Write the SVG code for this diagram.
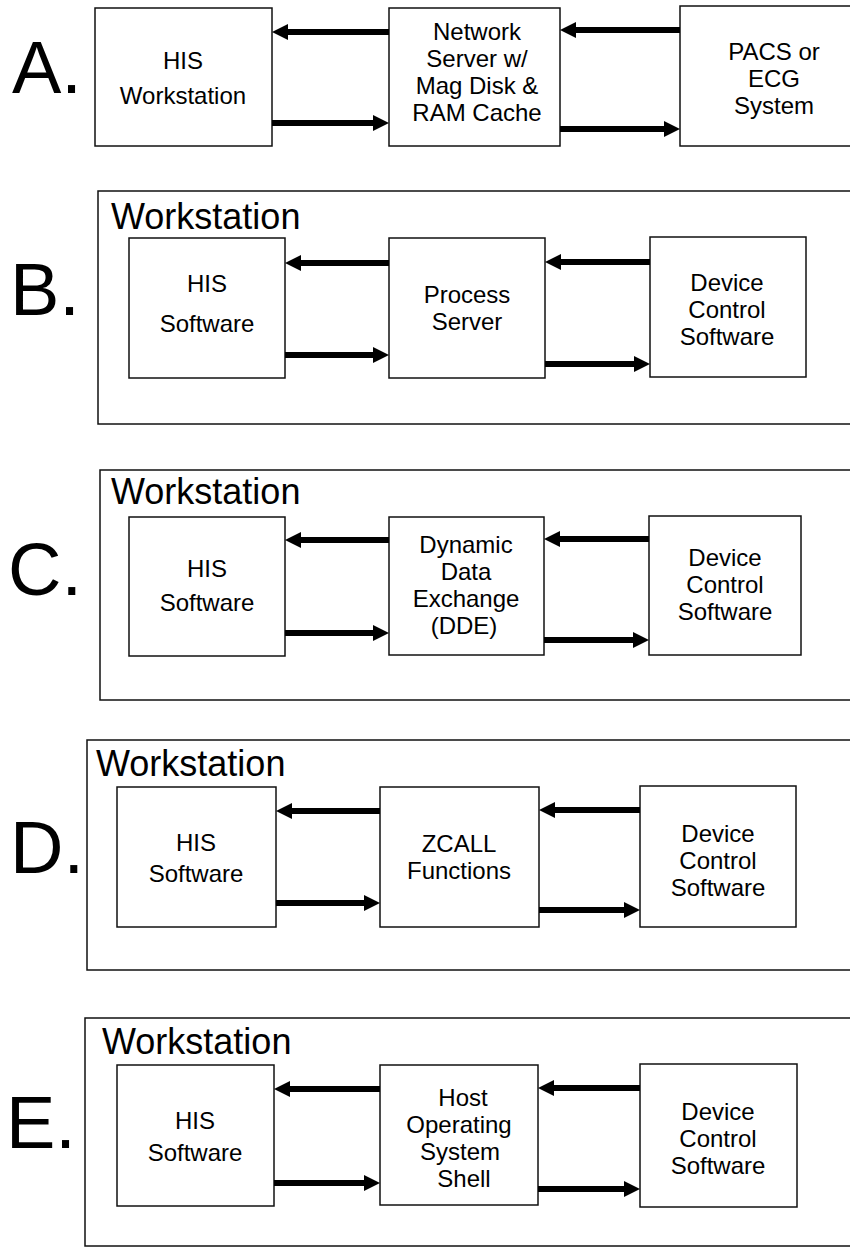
<svg xmlns="http://www.w3.org/2000/svg" width="850" height="1251" viewBox="0 0 850 1251">
<defs>
<style>
.bg{fill:#fff}
.box{fill:#fff;stroke:#111;stroke-width:1.5}
.frame{fill:none;stroke:#111;stroke-width:1.5}
.t{font-family:"Liberation Sans",Arial,sans-serif;font-size:24px;fill:#000;text-anchor:middle}
.ws{font-family:"Liberation Sans",Arial,sans-serif;font-size:36px;fill:#000}
.big{font-family:"Liberation Sans",Arial,sans-serif;font-size:74px;fill:#000}
.ar{stroke:#000;stroke-width:6;fill:none;marker-end:url(#ah)}
</style>
<marker id="ah" markerUnits="userSpaceOnUse" markerWidth="16" markerHeight="16" viewBox="0 0 16 16" refX="6" refY="8" orient="auto">
<path d="M0,0 L16,8 L0,16 z" fill="#000"/>
</marker>
</defs>
<rect class="bg" x="0" y="0" width="850" height="1251"/>

<!-- Section A -->
<g id="label-A"><text class="big" x="12" y="93">A.</text></g>
<g id="A-his"><rect class="box" x="95" y="8" width="177" height="138"/>
<text class="t" x="183" y="69">HIS</text><text class="t" x="183" y="104">Workstation</text></g>
<g id="A-server"><rect class="box" x="389" y="8" width="171" height="138"/>
<text class="t" x="477" y="40">Network</text><text class="t" x="477" y="67">Server w/</text><text class="t" x="477" y="94">Mag Disk &amp;</text><text class="t" x="477" y="121">RAM Cache</text></g>
<g id="A-pacs"><rect class="box" x="680" y="6" width="175" height="140"/>
<text class="t" x="774" y="60">PACS or</text><text class="t" x="774" y="87">ECG</text><text class="t" x="774" y="114">System</text></g>

<!-- Section B -->
<g id="label-B"><text class="big" x="10" y="315">B.</text></g>
<g id="B-frame"><rect class="frame" x="98" y="191" width="760" height="233"/><text class="ws" x="111" y="229">Workstation</text></g>
<g id="B-his"><rect class="box" x="129" y="238" width="156" height="140"/>
<text class="t" x="207" y="292">HIS</text><text class="t" x="207" y="332">Software</text></g>
<g id="B-process"><rect class="box" x="389" y="238" width="156" height="140"/>
<text class="t" x="467" y="303">Process</text><text class="t" x="467" y="330">Server</text></g>
<g id="B-device"><rect class="box" x="650" y="237" width="156" height="140"/>
<text class="t" x="727" y="291">Device</text><text class="t" x="727" y="318">Control</text><text class="t" x="727" y="345">Software</text></g>

<!-- Section C -->
<g id="label-C"><text class="big" x="8" y="595">C.</text></g>
<g id="C-frame"><rect class="frame" x="100" y="470" width="760" height="230"/><text class="ws" x="111" y="504">Workstation</text></g>
<g id="C-his"><rect class="box" x="129" y="517" width="156" height="139"/>
<text class="t" x="207" y="577">HIS</text><text class="t" x="207" y="611">Software</text></g>
<g id="C-dde"><rect class="box" x="389" y="517" width="155" height="138"/>
<text class="t" x="466" y="553">Dynamic</text><text class="t" x="466" y="580">Data</text><text class="t" x="466" y="607">Exchange</text><text class="t" x="464" y="634">(DDE)</text></g>
<g id="C-device"><rect class="box" x="649" y="516" width="152" height="139"/>
<text class="t" x="725" y="566">Device</text><text class="t" x="725" y="593">Control</text><text class="t" x="725" y="620">Software</text></g>

<!-- Section D -->
<g id="label-D"><text class="big" x="10" y="873">D.</text></g>
<g id="D-frame"><rect class="frame" x="87" y="740" width="770" height="230"/><text class="ws" x="96" y="776">Workstation</text></g>
<g id="D-his"><rect class="box" x="117" y="787" width="159" height="140"/>
<text class="t" x="196" y="851">HIS</text><text class="t" x="196" y="882">Software</text></g>
<g id="D-zcall"><rect class="box" x="380" y="787" width="159" height="140"/>
<text class="t" x="459" y="852">ZCALL</text><text class="t" x="459" y="879">Functions</text></g>
<g id="D-device"><rect class="box" x="640" y="786" width="156" height="141"/>
<text class="t" x="718" y="842">Device</text><text class="t" x="718" y="869">Control</text><text class="t" x="718" y="896">Software</text></g>

<!-- Section E -->
<g id="label-E"><text class="big" x="6" y="1148">E.</text></g>
<g id="E-frame"><rect class="frame" x="85" y="1018" width="772" height="228"/><text class="ws" x="102" y="1054">Workstation</text></g>
<g id="E-his"><rect class="box" x="117" y="1065" width="157" height="141"/>
<text class="t" x="195" y="1129">HIS</text><text class="t" x="195" y="1161">Software</text></g>
<g id="E-shell"><rect class="box" x="380" y="1065" width="158" height="140"/>
<text class="t" x="463" y="1106">Host</text><text class="t" x="459" y="1133">Operating</text><text class="t" x="460" y="1160">System</text><text class="t" x="464" y="1187">Shell</text></g>
<g id="E-device"><rect class="box" x="640" y="1064" width="157" height="143"/>
<text class="t" x="718" y="1120">Device</text><text class="t" x="718" y="1147">Control</text><text class="t" x="718" y="1174">Software</text></g>

<g id="connectors">
<line class="ar" x1="389" y1="32" x2="282" y2="32"/>
<line class="ar" x1="680" y1="30" x2="570" y2="30"/>
<line class="ar" x1="272" y1="123" x2="379" y2="123"/>
<line class="ar" x1="560" y1="129" x2="670" y2="129"/>

<line class="ar" x1="389" y1="263" x2="295" y2="263"/>
<line class="ar" x1="650" y1="262" x2="555" y2="262"/>
<line class="ar" x1="285" y1="355" x2="379" y2="355"/>
<line class="ar" x1="545" y1="364" x2="640" y2="364"/>

<line class="ar" x1="389" y1="540" x2="295" y2="540"/>
<line class="ar" x1="649" y1="539" x2="554" y2="539"/>
<line class="ar" x1="285" y1="633" x2="379" y2="633"/>
<line class="ar" x1="544" y1="640" x2="639" y2="640"/>

<line class="ar" x1="380" y1="811" x2="286" y2="811"/>
<line class="ar" x1="640" y1="810" x2="549" y2="810"/>
<line class="ar" x1="276" y1="903" x2="370" y2="903"/>
<line class="ar" x1="539" y1="910" x2="630" y2="910"/>

<line class="ar" x1="380" y1="1089" x2="284" y2="1089"/>
<line class="ar" x1="640" y1="1088" x2="548" y2="1088"/>
<line class="ar" x1="274" y1="1183" x2="370" y2="1183"/>
<line class="ar" x1="538" y1="1189" x2="630" y2="1189"/>
</g>
</svg>
